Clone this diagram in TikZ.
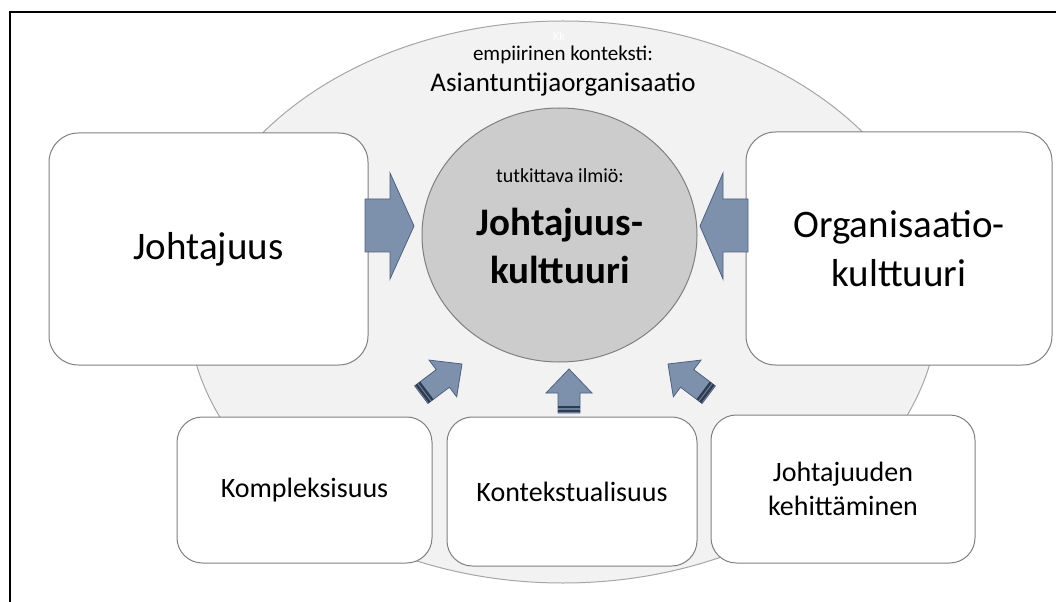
\documentclass[tikz,border=0pt]{standalone}
\usepackage{fontspec}
\setmainfont{Carlito}
\usetikzlibrary{shapes.geometric}
\definecolor{ellfill}{HTML}{F2F2F2}
\definecolor{ellline}{HTML}{A6A6A6}
\definecolor{circfill}{HTML}{CCCCCC}
\definecolor{circline}{HTML}{808080}
\definecolor{boxline}{HTML}{808080}
\definecolor{arrfill}{HTML}{7D91AD}
\definecolor{arrline}{HTML}{4F6180}
\definecolor{arrdark}{HTML}{2E3A4D}
\definecolor{arrmid}{HTML}{6A7E9A}
\begin{document}
\begin{tikzpicture}[x=0.75pt,y=-0.75pt,
  bigbox/.style={draw=boxline, line width=0.75pt, fill=white, rounded corners=22pt, inner sep=0pt, align=center,
    font=\fontsize{29.25}{36.75}\selectfont},
  smallbox/.style={draw=boxline, line width=0.75pt, fill=white, rounded corners=19pt, inner sep=0pt, align=center,
    minimum height=111pt, font=\fontsize{21}{25.5}\selectfont},
  blockarrow/.style={fill=arrfill, draw=arrline, line width=0.6pt, line join=miter},
  txt/.style={inner sep=0pt, anchor=base},
  pics/uparrow/.style={code={
    \filldraw[blockarrow] (0,0) -- (23,24) -- (11,24) -- (11,#1) -- (-11,#1) -- (-11,24) -- (-23,24) -- cycle;
    \fill[arrdark] (-11,#1-7) rectangle (11,#1-1);
    \draw[arrmid, line width=0.8pt] (-11,#1-4) -- (11,#1-4);
  }}
]
\useasboundingbox (0,0) rectangle (1056,602);
\fill[white] (0,0) rectangle (1056,602);

% outer frame (only left and top edges visible)
\draw[line width=1.5pt, black] (9.5,602) -- (9.5,12) -- (1056,12);

% empirical context ellipse
\node[ellipse, draw=ellline, fill=ellfill, line width=0.75pt, inner sep=0pt,
      minimum width=564pt, minimum height=421.5pt] (ctx) at (563,302) {};
\node[txt, text=white, font=\fontsize{9}{10}\selectfont] (kk) at (559,41) {Kk};
\node[txt, font=\fontsize{15.75}{18}\selectfont] (emp) at (563,61) {empiirinen konteksti:};
\node[txt, font=\fontsize{20.25}{24}\selectfont] (asi) at (563,92) {Asiantuntijaorganisaatio};

% phenomenon circle
\node[ellipse, draw=circline, fill=circfill, line width=0.75pt, inner sep=0pt,
      minimum width=206.25pt, minimum height=190.5pt] (phen) at (559.5,235) {};
\node[txt, font=\fontsize{15}{18}\selectfont] (tut) at (560,183) {tutkittava ilmiö:};
\node[inner sep=0pt, align=center, font=\fontsize{29.25}{36}\bfseries\selectfont] (jk) at (560,245.5) {Johtajuus-\\kulttuuri};

% big side boxes
\node[bigbox, minimum width=239.25pt, minimum height=174pt] (joh) at (208.5,249) {Johtajuus};
\node[bigbox, minimum width=229.5pt, minimum height=174.75pt] (org) at (899,248.5) {Organisaatio-\\kulttuuri};

% bottom boxes
\node[smallbox, minimum width=191.25pt, minimum height=109.5pt] (kom) at (304.5,490) {Kompleksisuus};
\node[smallbox, minimum width=187.5pt, minimum height=111.75pt] (kon) at (572,491.5) {Kontekstualisuus};
\node[smallbox, minimum width=198pt] (keh) at (843,489) {Johtajuuden\\kehittäminen};

% side block arrows
\filldraw[blockarrow] (365,199) -- (390,199) -- (390,173) -- (414,226) -- (390,279) -- (390,252) -- (365,252) -- cycle;
\filldraw[blockarrow] (748,199) -- (723,199) -- (723,173) -- (700,226) -- (723,279) -- (723,252) -- (748,252) -- cycle;

% bottom block arrows
\pic at (569,369) {uparrow=44};
\pic[rotate=-53] at (462,364) {uparrow=51};
\pic[rotate=53] at (668,364) {uparrow=51};
\end{tikzpicture}
\end{document}
